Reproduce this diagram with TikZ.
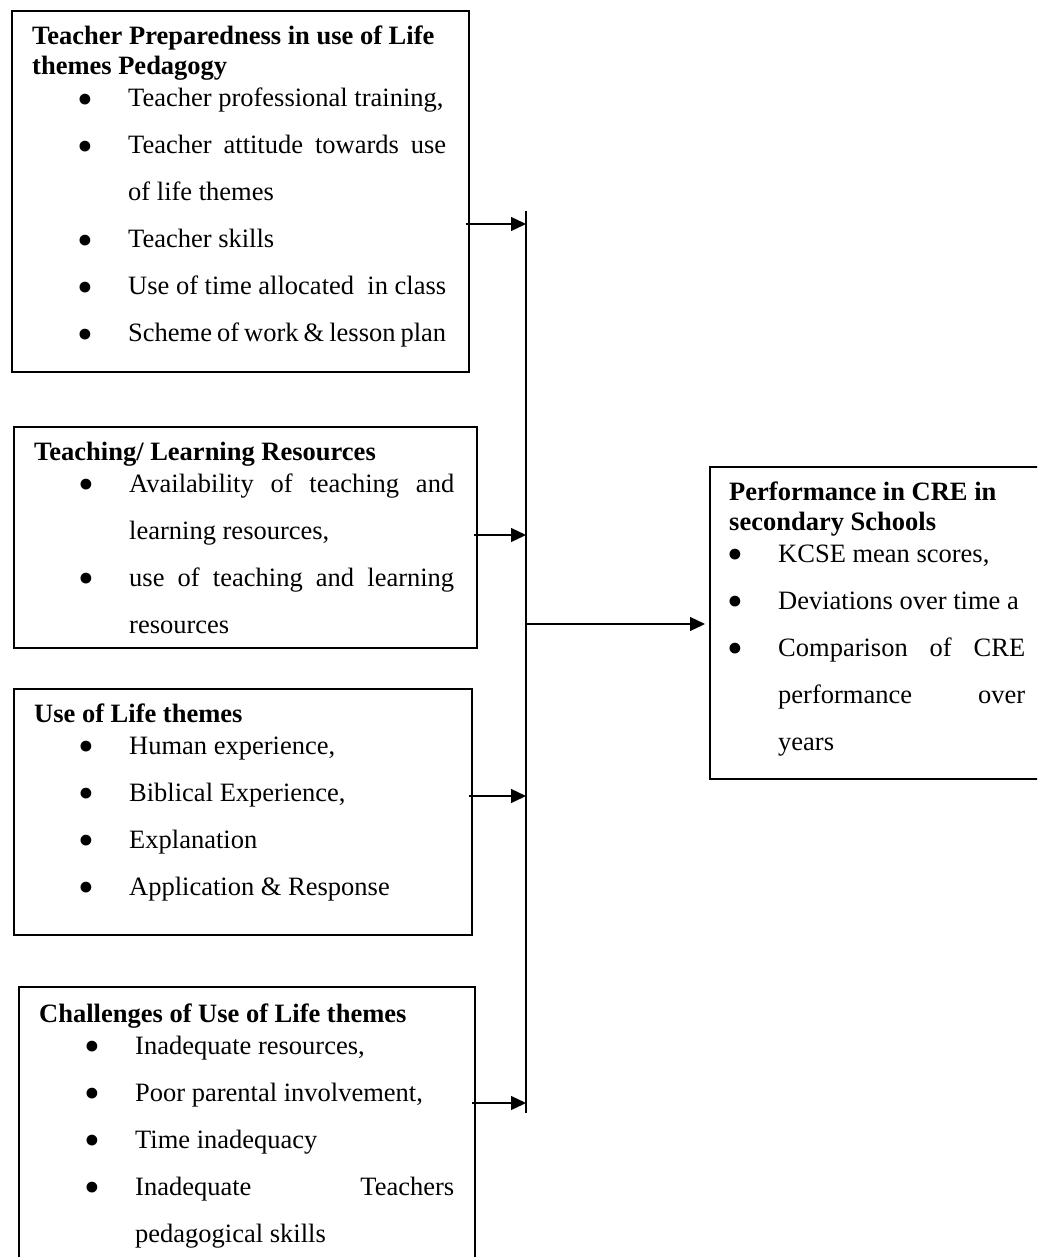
\documentclass[tikz,border=0pt]{standalone}
\usepackage{fontspec}
\setmainfont{Liberation Serif}
\usepackage{graphicx}
\usetikzlibrary{arrows.meta}

\newcommand{\bulletmark}{\raisebox{-7.2pt}{\scalebox{1.7}{\textbullet}}}
\newcommand{\bitem}[2][96pt]{\par\leftskip=#1\relax\noindent\llap{\makebox[0pt][c]{\bulletmark}\hspace{43pt}}#2\par}
\newcommand{\btitle}[1]{{\bfseries\fontsize{26.5}{30}\selectfont #1\par}\vspace{-15pt}}

\def\barX{526}
\def\barTop{211}
\def\barBot{1113}

\begin{document}
\begin{tikzpicture}[x=1pt, y=-1pt, >={Triangle[length=15pt,width=14pt]},
    box/.style={draw, line width=1.7pt, anchor=north west, inner sep=0pt},
    txt/.style={anchor=base west, inner sep=0pt, align=justify, font=\fontsize{26.5}{47}\selectfont},
    link/.style={line width=1.3pt}]
  \useasboundingbox (0,0) rectangle (1037,1257);
  \clip (0,0) rectangle (1037,1257);

  \node[box, minimum width=457pt, minimum height=361pt] (prep) at (11,10) {};
  \node[txt, text width=414pt] (prepText) at ([xshift=21pt, yshift=-35pt]prep.north west) {%
    \btitle{Teacher Preparedness in use of Life\\themes Pedagogy}
    \bitem{Teacher professional training,}
    \bitem{Teacher attitude towards use\linebreak of life themes}
    \bitem{Teacher skills}
    \bitem{Use of time allocated\ \ in class}
    \bitem{Scheme of work \& lesson plan}};

  \node[box, minimum width=463pt, minimum height=221pt] (res) at (13,426) {};
  \node[txt, text width=420pt] (resText) at ([xshift=21pt, yshift=-34pt]res.north west) {%
    \btitle{Teaching/ Learning Resources}
    \bitem[95pt]{Availability of teaching and\linebreak learning resources,}
    \bitem[95pt]{use of teaching and learning\linebreak resources}};

  \node[box, minimum width=458pt, minimum height=246pt] (life) at (13,688) {};
  \node[txt, text width=416pt] (lifeText) at ([xshift=21pt, yshift=-34pt]life.north west) {%
    \btitle{Use of Life themes}
    \bitem[95pt]{Human experience,}
    \bitem[95pt]{Biblical Experience,}
    \bitem[95pt]{Explanation}
    \bitem[95pt]{Application \& Response}};

  \node[box, minimum width=456pt, minimum height=300pt] (chal) at (18,986) {};
  \node[txt, text width=415pt] (chalText) at ([xshift=21pt, yshift=-36pt]chal.north west) {%
    \btitle{Challenges of Use of Life themes}
    \bitem{Inadequate resources,}
    \bitem{Poor parental involvement,}
    \bitem{Time inadequacy}
    \bitem{Inadequate Teachers\linebreak pedagogical skills}};

  \node[box, minimum width=340pt, minimum height=312pt] (perf) at (709,466) {};
  \node[txt, text width=296pt] (perfText) at ([xshift=20pt, yshift=-34pt]perf.north west) {%
    \btitle{Performance in CRE in\\secondary Schools}
    \bitem[49pt]{KCSE mean scores,}
    \bitem[49pt]{Deviations over time a}
    \bitem[49pt]{Comparison of CRE\linebreak performance over\linebreak years}};

  \coordinate (barTop) at (\barX,\barTop);
  \coordinate (barBot) at (\barX,\barBot);
  \draw[link] (barTop) -- (barBot);

  \foreach \src/\yy in {prep/224, res/535, life/796, chal/1103} {
    \coordinate (in-\src) at (\barX,\yy);
    \draw[->, link] ([xshift=-4pt]\src.east |- in-\src) -- (in-\src);
  }

  \coordinate (out) at (\barX,624);
  \draw[->, link] (out) -- ([xshift=-4pt]perf.west |- out);
\end{tikzpicture}
\end{document}
